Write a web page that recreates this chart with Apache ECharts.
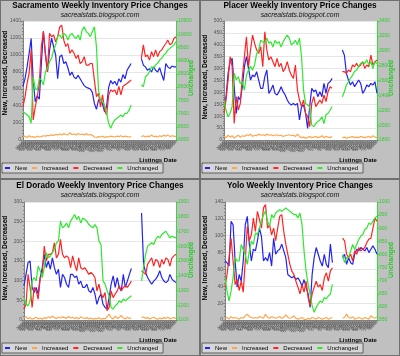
<!DOCTYPE html>
<html><head><meta charset="utf-8">
<script src="https://cdn.jsdelivr.net/npm/echarts@6/dist/echarts.min.js"></script>
<style>
html,body{margin:0;padding:0;width:400px;height:356px;background:#c0c0c0;overflow:hidden}
.w{position:absolute;box-sizing:border-box;border:1px solid #707070;background:#c0c0c0}
.c{position:absolute;left:0;top:0;right:0;bottom:0}
</style></head><body>
<div class="w" style="left:0;top:0;width:200px;height:179px"><div id="c0" class="c"></div></div>
<div class="w" style="left:200px;top:0;width:200px;height:179px"><div id="c1" class="c"></div></div>
<div class="w" style="left:0;top:179px;width:200px;height:177px"><div id="c2" class="c"></div></div>
<div class="w" style="left:200px;top:179px;width:200px;height:177px"><div id="c3" class="c"></div></div>
<script>
const dates = ['3/2/08','3/9/08','3/16/08','3/23/08','3/30/08','4/6/08','4/13/08','4/20/08','4/27/08','5/4/08','5/11/08','5/18/08','5/25/08','6/1/08','6/8/08','6/15/08','6/22/08','6/29/08','7/6/08','7/13/08','7/20/08','7/27/08','8/3/08','8/10/08','8/17/08','8/24/08','8/31/08','9/7/08','9/14/08','9/21/08','9/28/08','10/5/08','10/12/08','10/19/08','10/26/08','11/2/08','11/9/08','11/16/08','11/23/08','11/30/08','12/7/08','12/14/08','12/21/08','12/28/08','1/4/09','1/11/09','1/18/09','1/25/09','2/1/09','2/8/09','2/15/09','2/22/09','3/1/09','3/8/09','3/15/09','3/22/09','3/29/09','4/5/09','4/12/09','4/19/09','4/26/09','5/3/09','5/10/09','5/17/09','5/24/09','5/31/09','6/7/09','6/14/09','6/21/09','6/28/09','7/5/09','7/12/09','7/19/09','7/26/09','8/2/09','8/9/09'];
const seriesNames = ['New','Increased','Decreased','Unchanged'];

// Sacramento
const sacNew = [630,725,860,1020,1195,700,450,520,480,900,1280,1000,800,1050,1200,1100,1000,720,980,1000,900,920,850,760,800,740,720,760,720,680,640,620,610,600,560,430,360,470,480,420,330,400,620,700,660,690,640,720,680,770,720,820,860,900,null,null,null,null,960,880,860,820,840,800,860,820,800,850,770,700,900,860,840,870,860,860];
const sacInc = [40,45,30,50,35,40,30,45,35,40,50,45,55,50,60,55,65,60,70,60,75,65,60,85,65,70,60,75,65,70,60,75,60,65,55,35,30,40,35,45,30,40,35,45,40,35,45,40,50,35,45,40,35,40,null,null,null,null,40,50,35,45,40,55,40,45,35,50,40,55,45,60,40,50,45,40];
const sacDec = [390,510,665,785,1060,235,390,510,665,1100,1275,1020,800,1255,1215,1235,1155,1215,1330,1350,1175,1100,1135,1020,1060,1020,960,1000,900,920,980,880,880,900,900,705,510,550,390,530,350,295,530,590,570,590,530,630,530,630,650,665,685,705,null,null,null,null,960,1120,980,1000,940,1040,980,1060,980,1040,1060,1100,1135,1175,1120,1135,1195,1215];
const sacUnch = [7070,7010,6945,6880,6630,8390,7950,7890,8330,8270,8080,8580,8710,8960,9090,9400,9590,9910,9970,9840,10030,9970,9780,9970,10030,9910,9840,9970,9780,10160,10280,10100,10030,9910,10100,10280,9530,7890,7510,7450,7320,7010,6630,6440,6630,6760,6820,6880,6945,6880,7010,7010,7130,7320,null,null,null,null,8080,8020,8390,8460,8580,8770,8710,8840,8900,9020,9090,9210,9280,9400,9465,9530,9590,9720];

// Placer
const plcNew = [154,182,280,329,343,224,112,182,168,224,308,350,301,252,273,266,287,252,217,217,266,294,196,210,231,196,189,203,224,203,189,168,154,147,154,147,154,84,140,147,112,49,140,217,203,210,182,203,182,238,196,238,245,259,null,null,null,null,378,357,280,252,231,245,224,238,252,238,196,210,231,224,238,231,245,196];
const plcInc = [15,10,20,12,18,8,15,20,12,18,15,22,18,25,15,20,18,25,20,22,18,25,20,22,18,20,22,18,20,15,18,20,22,18,20,15,25,15,10,12,8,10,15,10,12,15,10,12,18,10,15,12,10,15,null,null,null,null,10,12,8,10,12,15,10,12,10,15,12,10,12,15,10,18,12,10];
const plcDec = [112,168,252,350,308,70,182,126,154,266,350,434,308,378,441,406,378,364,392,308,455,378,336,350,329,308,343,308,322,287,301,329,294,273,259,315,210,168,140,168,112,98,56,154,182,140,154,168,154,189,161,203,224,217,null,null,null,null,287,287,280,294,287,315,308,322,308,315,329,301,315,308,357,315,329,336];
const plcUnch = [2340,2200,2110,2160,2250,2700,2610,2650,2560,2580,2470,2670,2740,2790,2740,2810,2960,3010,3140,3120,3100,3170,3100,3120,3050,3140,3100,3120,3050,3120,3170,3210,3170,3080,3100,3140,3080,3170,2920,2470,2290,2270,2250,2000,1980,2020,2050,2070,2110,2020,2140,2160,2200,2250,null,null,null,null,2380,2450,2540,2580,2630,2670,2720,2740,2790,2830,2850,2830,2880,2810,2850,2760,2850,2830];

// El Dorado
const edNew = [87,116,146,150,83,70,83,66,108,133,167,133,150,129,158,133,116,129,83,116,108,91,83,116,116,108,112,91,99,83,83,91,74,70,83,66,40,57,66,40,32,28,57,91,112,83,108,83,74,116,83,99,116,131,null,null,null,null,272,142,121,108,99,91,99,104,112,125,108,99,95,99,116,104,99,95];
const edInc = [5,8,3,6,2,4,7,3,5,2,6,4,8,5,10,6,4,7,5,8,6,4,9,5,7,4,6,3,8,5,4,6,3,5,2,4,3,6,2,4,3,8,15,5,3,10,4,6,12,5,3,7,4,5,null,null,null,null,5,8,4,6,3,5,7,4,2,5,3,6,4,7,3,5,6,4];
const edDec = [28,40,116,83,32,83,74,53,108,116,188,150,167,167,171,196,158,167,205,167,158,163,158,133,163,142,125,158,133,129,133,125,116,121,116,108,74,91,66,57,70,24,32,74,57,66,74,87,74,83,87,83,91,99,null,null,null,null,125,121,116,142,150,158,137,154,150,133,154,142,158,154,137,158,163,167];
const edUnch = [1253,1208,1197,1230,1365,1388,1365,1466,1433,1388,1455,1556,1522,1534,1556,1579,1624,1635,1770,1725,1736,1758,1725,1770,1792,1815,1781,1803,1758,1792,1781,1770,1747,1736,1725,1747,1725,1635,1612,1365,1343,1298,1264,1185,1174,1197,1208,1230,1219,1242,1230,1242,1253,1264,null,null,null,null,1365,1455,1545,1601,1612,1624,1612,1646,1668,1657,1680,1691,1702,1680,1657,1668,1662,1657];

// Yolo
const yoNew = [70,68,64,117,113,70,39,54,46,70,113,123,90,70,84,82,94,109,99,70,74,70,80,64,97,78,82,84,90,82,74,54,52,50,52,48,50,46,40,48,39,31,15,54,74,86,78,70,64,78,66,62,90,68,null,null,null,null,74,78,66,74,68,66,78,84,82,86,84,82,86,80,84,88,84,78];
const yoInc = [2,3,1,4,2,3,2,1,3,2,5,7,4,3,2,3,2,4,3,2,7,3,2,4,3,2,3,4,2,3,6,3,2,3,5,2,1,2,3,1,0,2,1,3,2,1,3,2,1,2,3,1,2,3,null,null,null,null,2,3,7,3,2,4,1,2,3,2,1,3,2,1,5,3,2,4];
const yoDec = [39,54,74,97,70,42,48,35,46,33,70,111,94,101,121,105,129,119,109,133,137,109,113,101,109,94,109,123,125,105,90,78,66,58,54,46,39,31,42,33,46,27,17,31,39,46,39,42,35,50,56,46,58,62,null,null,null,null,97,94,78,74,78,70,82,78,86,82,84,86,92,96,97,109,121,117];
const yoUnch = [712,661,623,661,712,788,775,775,838,819,800,762,813,851,838,882,876,901,927,952,965,927,908,952,939,958,965,971,965,971,977,971,965,958,952,952,939,958,914,813,737,686,649,604,579,598,611,623,617,636,630,642,649,686,null,null,null,null,800,769,788,788,813,838,819,838,857,870,876,895,901,920,914,927,939,946];

const COLORS = ['#2424f0','#ffa64d','#ff2424','#2ee82e'];
const FONT = 'Liberation Sans, Arial, sans-serif';
const plain = v => String(v);

function build(id, title, d, L, R, g) {
  const el = document.getElementById(id);
  const chart = echarts.init(el, null, {renderer:'canvas'});
  chart.setOption({
    animation:false,
    backgroundColor:'#c0c0c0',
    title:[
      {text:title, left:'center', top:g.tt, padding:0, textStyle:{fontFamily:FONT, fontSize:8.2, fontWeight:'bold', color:'#000'}},
      {text:'sacrealstats.blogspot.com', left:'center', top:g.st, padding:0, textStyle:{fontFamily:FONT, fontSize:6.8, fontStyle:'italic', fontWeight:'normal', color:'#111'}}
    ],
    legend:{left:g.lgL, top:g.lgT, itemWidth:5, itemHeight:2, itemGap:5, padding:[2,5,2,3], icon:'rect',
      backgroundColor:'#d6d6d6', borderColor:'#606060', borderWidth:1,
      textStyle:{fontFamily:FONT, fontSize:6, color:'#000'}, data:seriesNames},
    grid:{left:g.l, right:g.r, top:g.t, bottom:g.b, show:true, backgroundColor:'#ffffff', borderWidth:0},
    graphic:[
      {type:'text', x:g.ln[0], y:g.ln[1], rotation:Math.PI/2, style:{text:'New, Increased, Decreased', font:'bold 6.6px '+FONT, fill:'#000', textAlign:'center', textVerticalAlign:'middle'}},
      {type:'text', x:g.rn[0], y:g.rn[1], rotation:Math.PI/2, style:{text:'Unchanged', font:'bold 6.6px '+FONT, fill:'#22cc22', textAlign:'center', textVerticalAlign:'middle'}},
      {type:'text', x:g.xn[0], y:g.xn[1], style:{text:'Listings Date', font:'bold 6px '+FONT, fill:'#000', textAlign:'center', textVerticalAlign:'middle'}}
    ],
    xAxis:{type:'category', data:dates, boundaryGap:false,
      axisLine:{lineStyle:{color:'#808080', width:1}},
      axisTick:{show:true, interval:0, length:1.5, lineStyle:{color:'#808080'}},
      axisLabel:{interval:0, rotate:45, fontSize:3.6, margin:2, color:'#333', fontFamily:FONT},
      splitLine:{show:false}},
    yAxis:[
      {type:'value', min:L[0], max:L[1], interval:L[2],
        axisLine:{show:true, lineStyle:{color:'#808080'}},
        axisTick:{show:true, length:2, lineStyle:{color:'#808080'}},
        minorTick:{show:true, splitNumber:5, length:1, lineStyle:{color:'#808080'}},
        axisLabel:{fontSize:5, color:'#555', margin:2, fontFamily:FONT, formatter:plain},
        splitLine:{show:true, lineStyle:{color:'#e6e6e6', width:1}}},
      {type:'value', position:'right', min:R[0], max:R[1], interval:R[2],
        axisLine:{show:true, lineStyle:{color:'#33dd33'}},
        axisTick:{show:true, length:2, lineStyle:{color:'#33dd33'}},
        minorTick:{show:true, splitNumber:5, length:1, lineStyle:{color:'#33dd33'}},
        axisLabel:{fontSize:5, color:'#33cc33', margin:2, fontFamily:FONT, formatter:plain},
        splitLine:{show:false}}
    ],
    series: d.map((arr,i)=>({
      name:seriesNames[i], type:'line', data:arr, yAxisIndex: i===3?1:0,
      showSymbol:false, connectNulls:false, silent:true, emphasis:{disabled:true},
      lineStyle:{width:1.2, color:COLORS[i]}, itemStyle:{color:COLORS[i]}
    }))
  });
}

const gTop = {tt:1, st:11, l:22, r:23, t:20, b:38, lgL:1, lgT:162, ln:[4,72], rn:[190,77], xn:[157,159]};
const gTopR = {tt:1, st:11, l:23, r:22, t:20, b:38, lgL:1, lgT:162, ln:[4,76], rn:[190,77], xn:[157,159]};
const gBot = {tt:2, st:12, l:23, r:23, t:22, b:35, lgL:1, lgT:163, ln:[4,78], rn:[190,80], xn:[157,160]};
const gBotR = {tt:2, st:12, l:24, r:22, t:22, b:35, lgL:1, lgT:163, ln:[4,78], rn:[190,80], xn:[157,160]};

build('c0','Sacramento Weekly Inventory Price Changes',[sacNew,sacInc,sacDec,sacUnch],[0,1400,200],[6000,10500,500],gTop);
build('c1','Placer Weekly Inventory Price Changes',[plcNew,plcInc,plcDec,plcUnch],[0,500,50],[1800,3400,200],gTopR);
build('c2','El Dorado Weekly Inventory Price Changes',[edNew,edInc,edDec,edUnch],[0,300,50],[1100,1900,100],gBot);
build('c3','Yolo Weekly Inventory Price Changes',[yoNew,yoInc,yoDec,yoUnch],[0,140,20],[550,1000,50],gBotR);
</script>
</body></html>
